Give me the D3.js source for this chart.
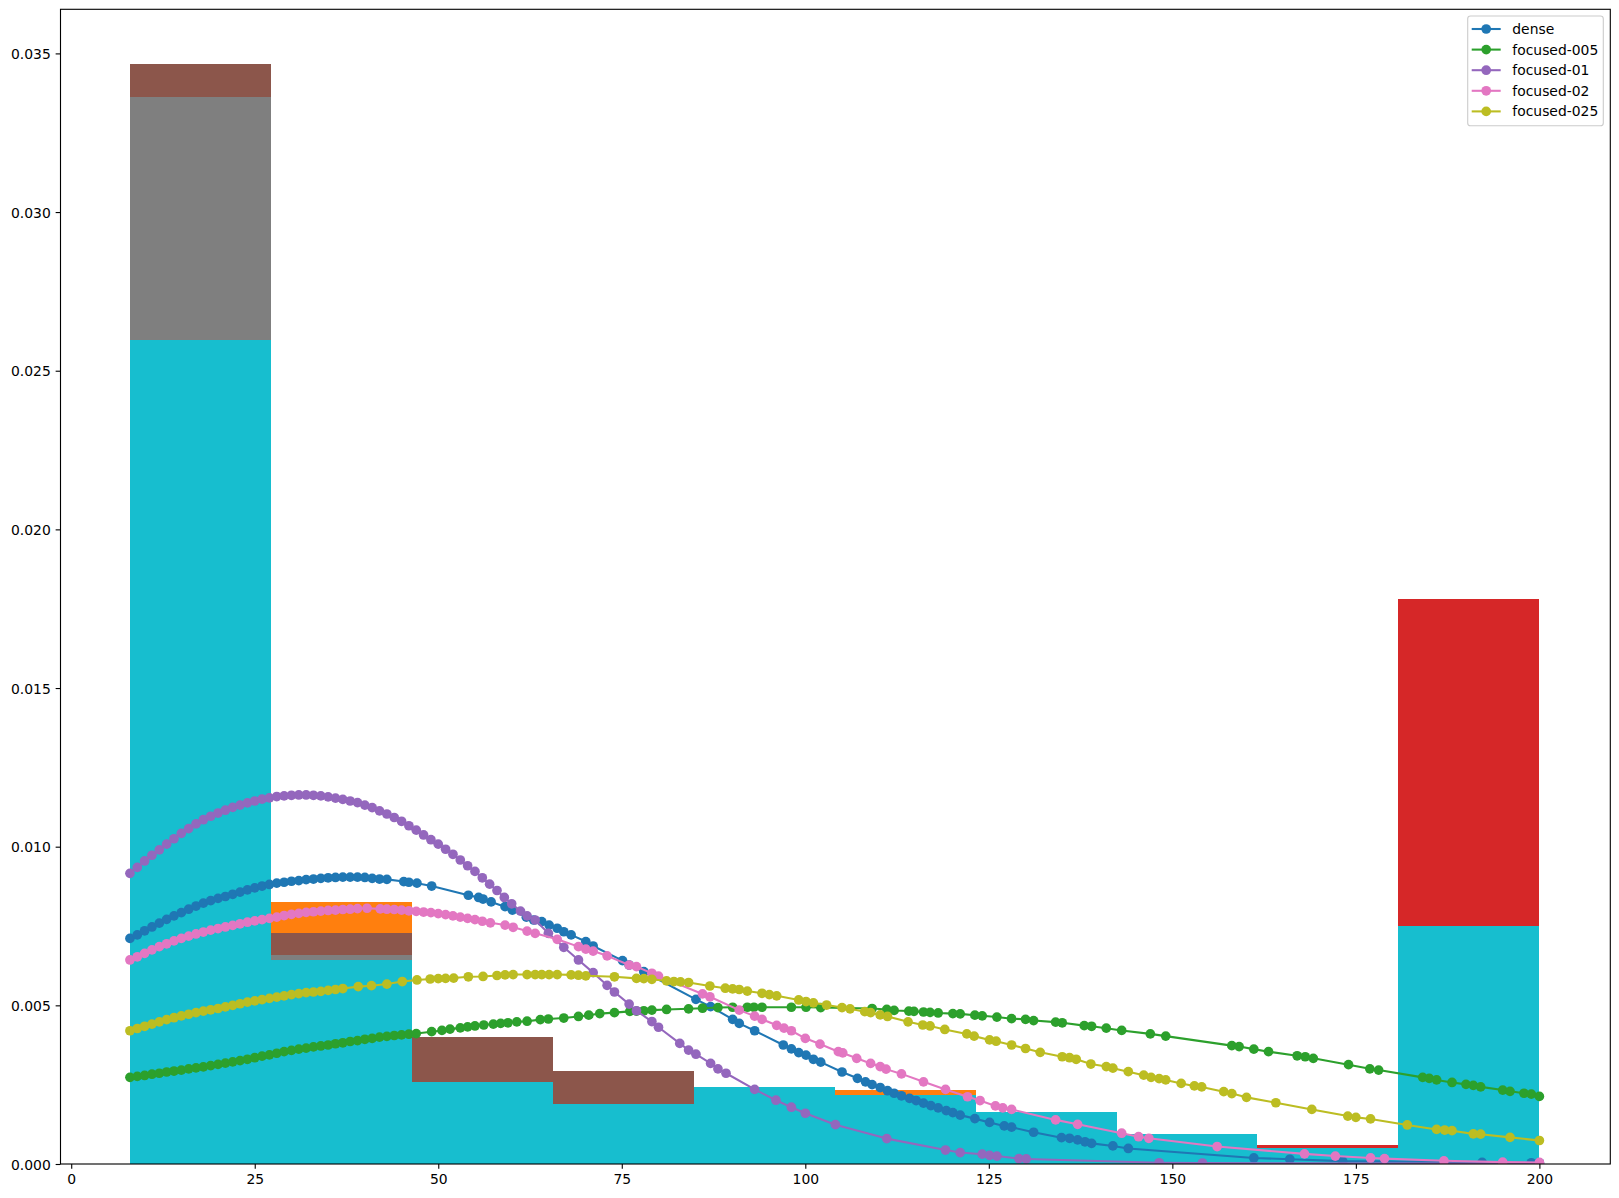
<!DOCTYPE html>
<html>
<head>
<meta charset="utf-8">
<script src="https://cdn.jsdelivr.net/npm/d3@7"></script>
<style>
html,body{margin:0;padding:0;background:#fff;}
svg{display:block;}
text{font-family:"DejaVu Sans",sans-serif;font-size:13.9px;fill:#000;}
</style>
</head>
<body>
<svg id="chart" width="1619" height="1198"></svg>
<script>
// ---------- DATA ----------
const binEdges = [8, 27.2, 46.4, 65.6, 84.8, 104, 123.2, 142.4, 161.6, 180.8, 200];

// histogram densities (drawn in this order, later ones on top)
const histDense = [0.0275, 0.00826, 0.0038, 0.0029, 0.0024, 0.00233, 0.0015, 0.0008, 0.0004, 0.0022];
const hist005   = [0.0172, 0.0050, 0.0030, 0.0025, 0.0020, 0.0018, 0.0014, 0.0008, 0.0006, 0.0178];
const hist01    = [0.03467, 0.00728, 0.0040, 0.00293, 0.0016, 0.0008, 0.0004, 0.0002, 0.0001, 0.0001];
const hist02    = [0.03363, 0.00659, 0.0024, 0.0018, 0.0020, 0.0018, 0.0012, 0.0007, 0.0004, 0.0016];
const hist025   = [0.02597, 0.00643, 0.00259, 0.0019, 0.00243, 0.00217, 0.00164, 0.00095, 0.00051, 0.00749];

const seriesNames = ["dense", "focused-005", "focused-01", "focused-02", "focused-025"];

const kdeDense = [
[8,0.00711],[9,0.00722],[10,0.00735],[11,0.00747],[12,0.00759],[13,0.00771],[14,0.00782],[15,0.00792],
[16,0.00803],[17,0.00813],[18,0.00822],[19,0.0083],[20,0.00837],[21,0.00843],[22,0.0085],[23,0.00857],
[24,0.00864],[25,0.0087],[26,0.00876],[27,0.00881],[28,0.00885],[29,0.00888],[30,0.00891],[31,0.00893],
[32,0.00896],[33,0.00898],[34,0.009],[35,0.00902],[36,0.00903],[37,0.00904],[38,0.00904],[39,0.00904],
[40,0.00903],[41,0.009],[42,0.00898],[43,0.00897],[45.3,0.0089],[46,0.00888],[47.1,0.00885],[49.1,0.00876],
[54.1,0.00847],[55.5,0.0084],[56.1,0.00835],[57.2,0.00826],[59.1,0.00811],[60.1,0.008],[62,0.00778],[63,0.00769],
[64.1,0.00764],[65.1,0.00753],[66.2,0.00743],[67.1,0.00732],[68.1,0.00722],[70.1,0.00701],[71.1,0.00687],
[75.1,0.00641],[76,0.00627],[78,0.00606],[85.1,0.00519],[87.1,0.00496],[90.1,0.00456],[91,0.00443],[93.1,0.0042],
[97,0.00375],[98.1,0.00363],[99.1,0.00351],[100.1,0.00343],[101.1,0.0033],[102.1,0.00321],[105,0.0029],
[107.1,0.0027],[108.2,0.00259],[109.1,0.0025],[110.2,0.00241],[111.2,0.00231],[112.1,0.00223],[113.1,0.00215],
[114.2,0.00207],[115.1,0.002],[116.1,0.00192],[117.1,0.00184],[118.1,0.00177],[119.2,0.00168],[120.1,0.00162],
[121.1,0.00154],[123.1,0.00143],[125.1,0.00131],[127.1,0.0012],[128.1,0.00116],[131.1,0.001],[134.9,0.00083],
[136,0.00081],[137.1,0.00076],[138.1,0.0007],[139,0.00065],[141.9,0.00057],[144,0.00049],[161.1,0.00019],
[166,0.00015],[173.2,0.00009],[192.2,0.00005],[198.9,0.00004],[200,0.00004]
];

const kde005 = [
[8,0.00273],[9,0.00276],[10,0.00279],[11,0.00283],[12,0.00286],[13,0.0029],[14,0.00293],[15,0.00296],
[16,0.003],[17,0.00303],[18,0.00306],[19,0.0031],[20,0.00314],[21,0.00318],[22,0.00322],[23,0.00326],
[24,0.0033],[25,0.00335],[26,0.0034],[27,0.00344],[28,0.00349],[29,0.00354],[30,0.00358],[31,0.00362],
[32,0.00365],[33,0.00369],[34,0.00372],[35,0.00375],[36,0.00379],[37,0.00382],[38,0.00386],[39,0.00389],
[40,0.00393],[41,0.00396],[42,0.004],[43,0.00402],[44,0.00405],[45,0.00407],[46,0.00409],[47,0.00411],
[49.1,0.00417],[50.5,0.00421],[51.6,0.00425],[53,0.00429],[54,0.00432],[55,0.00435],[56.2,0.00438],
[57.5,0.00441],[58.5,0.00443],[59.5,0.00445],[60.7,0.00448],[62.1,0.0045],[63.9,0.00455],[65,0.00457],
[67.1,0.0046],[69.1,0.00465],[70.5,0.00469],[72,0.00474],[74,0.00477],[76.1,0.00481],[77,0.00482],[78,0.00483],
[79.1,0.00485],[81.1,0.00487],[84.1,0.00489],[86,0.00491],[88.1,0.00493],[90.1,0.00494],[92.1,0.00494],
[93,0.00494],[94.1,0.00494],[98.1,0.00494],[100.1,0.00494],[102.1,0.00493],[109.1,0.0049],[111.1,0.00487],
[112.1,0.00484],[114.1,0.00482],[114.8,0.00481],[116.1,0.00479],[117,0.00478],[118.1,0.00476],[120.1,0.00474],
[121.1,0.00473],[123.1,0.00469],[124.1,0.00467],[126.1,0.00463],[128.1,0.00458],[130,0.00456],[131.1,0.00452],
[134.1,0.00447],[135,0.00445],[138,0.00436],[139,0.00434],[141,0.00428],[143.1,0.00421],[147,0.0041],
[149.1,0.00403],[158.1,0.00373],[159.1,0.0037],[161.1,0.00362],[163.1,0.00354],[167,0.00341],[168.1,0.00338],
[169.2,0.00333],[174,0.00313],[176.9,0.003],[178.1,0.00296],[184.1,0.00273],[185,0.0027],[186,0.00265],
[188.1,0.00257],[190,0.00251],[191,0.00248],[192,0.00243],[195,0.00233],[196,0.00229],[197.9,0.00223],
[198.9,0.0022],[200,0.00213]
];

const kde01 = [
[8,0.00916],[9,0.00935],[10,0.00955],[11,0.00973],[12,0.0099],[13,0.01008],[14,0.01025],[15,0.01042],
[16,0.01057],[17,0.01072],[18,0.01085],[19,0.01096],[20,0.01106],[21,0.01115],[22,0.01124],[23,0.01131],
[24,0.01138],[25,0.01144],[26,0.0115],[27,0.01154],[28,0.01158],[29,0.0116],[30,0.01162],[31,0.01163],
[32,0.01163],[33,0.01162],[34,0.0116],[35,0.01157],[36,0.01153],[37,0.01149],[38,0.01144],[39,0.01139],
[40,0.01131],[41,0.01123],[42,0.01113],[43,0.01103],[44,0.01092],[45,0.0108],[46,0.01066],[47,0.01052],
[48,0.01037],[49,0.01022],[50,0.01008],[51,0.00992],[52,0.00976],[53,0.00958],[54,0.0094],[55,0.00922],
[56,0.00902],[57,0.00882],[58,0.00862],[59,0.0084],[60,0.0082],[61.2,0.00797],[62.1,0.00782],[63.2,0.00769],
[65,0.00727],[67.1,0.00683],[69.1,0.00643],[71.1,0.00603],[73,0.00563],[74,0.00542],[76,0.00504],[77,0.00483],
[79.1,0.00449],[80,0.00431],[82.9,0.0038],[84.1,0.00359],[85.1,0.00346],[87.1,0.00317],[88.1,0.003],
[89.2,0.00286],[93.1,0.00235],[96,0.00201],[98.1,0.00179],[100,0.0016],[104.1,0.00124],[111.1,0.0008],
[119.1,0.00044],[121.1,0.00036],[124.1,0.00031],[125.1,0.00027],[126.1,0.00025],[129.1,0.00017],[130.1,0.00016],
[148.2,0.00004],[154.1,0.00003],[200,0.00001]
];

const kde02 = [
[8,0.00643],[9,0.00653],[10,0.00664],[11,0.00675],[12,0.00685],[13,0.00694],[14,0.00703],[15,0.00711],
[16,0.00718],[17,0.00725],[18,0.00731],[19,0.00737],[20,0.00742],[21,0.00747],[22,0.00752],[23,0.00757],
[24,0.00762],[25,0.00766],[26,0.0077],[27,0.00774],[28,0.00778],[29,0.00783],[30,0.00787],[31,0.0079],
[32,0.00793],[33,0.00795],[34,0.00797],[35,0.00799],[36,0.008],[37,0.00802],[38,0.00803],[39,0.00805],
[40.3,0.00806],[42.1,0.00804],[43,0.00803],[44,0.00802],[45,0.008],[46,0.00798],[47,0.00796],[48,0.00794],
[49,0.00792],[50,0.00789],[51,0.00786],[52,0.00782],[53,0.00778],[54,0.00774],[55,0.0077],[56,0.00765],
[57.1,0.0076],[59.1,0.00753],[60.2,0.00746],[62.1,0.00734],[63.2,0.00727],[66.2,0.00708],[69.1,0.00685],
[70.1,0.00677],[71.1,0.00671],[73,0.00656],[76,0.00627],[77,0.00622],[79.1,0.00601],[80,0.00592],[86,0.00536],
[87,0.00527],[91,0.00485],[93.1,0.00466],[94.1,0.00456],[96.1,0.00437],[97.1,0.00428],[98.1,0.0042],[100,0.00396],
[102,0.00378],[104.5,0.00354],[105.1,0.0035],[107,0.00333],[108.9,0.00317],[110.2,0.00307],[111,0.00299],
[113.1,0.00284],[116.1,0.00259],[119.1,0.00235],[122.1,0.00212],[123.8,0.002],[125.9,0.00183],[126.9,0.00177],
[128.1,0.00172],[134.1,0.00139],[137.1,0.00125],[143.1,0.00097],[145.4,0.00086],[146.8,0.00081],[156.1,0.00055],
[168,0.00032],[172.2,0.00025],[177,0.00019],[178.9,0.00017],[187,0.0001],[195,0.00006],[200,0.00005]
];

const kde025 = [
[8,0.0042],[9,0.00427],[10,0.00434],[11,0.00441],[12,0.00448],[13,0.00455],[14,0.00461],[15,0.00467],
[16,0.00472],[17,0.00477],[18,0.00482],[19,0.00486],[20,0.0049],[21,0.00495],[22,0.005],[23,0.00505],
[24,0.0051],[25,0.00514],[26,0.00518],[27,0.00522],[28,0.00526],[29,0.0053],[30,0.00534],[31,0.00537],
[32,0.0054],[33,0.00542],[34,0.00544],[35,0.00547],[36,0.0055],[37,0.00553],[39.1,0.00559],[40.9,0.00562],
[43,0.00567],[45.1,0.00575],[47.1,0.0058],[48.9,0.00583],[50,0.00584],[51,0.00585],[52.1,0.00586],[54.1,0.0059],
[56.1,0.00591],[58,0.00594],[59.1,0.00596],[60.2,0.00597],[62.1,0.00597],[63.2,0.00597],[64.1,0.00597],
[65.1,0.00597],[66.2,0.00597],[68.1,0.00596],[69.1,0.00595],[70.1,0.00593],[74,0.0059],[77,0.00585],[78,0.00584],
[79.1,0.00582],[81.1,0.00577],[82.1,0.00575],[83,0.00574],[84.1,0.00572],[87,0.00561],[89.1,0.00554],
[90.1,0.00552],[91,0.0055],[92.1,0.00545],[94.1,0.00538],[95.1,0.00534],[96.1,0.0053],[99.1,0.00517],
[100.1,0.00512],[101.1,0.00508],[102.9,0.00501],[105,0.00493],[106.1,0.00489],[108.1,0.0048],[108.9,0.00477],
[110.2,0.0047],[111.2,0.00465],[114,0.00448],[116,0.00438],[117,0.00435],[119,0.00424],[122,0.0041],[123,0.00403],
[125.1,0.00391],[126,0.00387],[128.1,0.00375],[130,0.00364],[132,0.00352],[135,0.00338],[136,0.00335],
[136.9,0.0033],[138.9,0.00315],[141,0.00307],[141.9,0.00302],[144,0.00291],[146.1,0.0028],[147.1,0.00273],
[148.2,0.00269],[149.1,0.00265],[151.2,0.00254],[153,0.00246],[154,0.00243],[157,0.00228],[158.1,0.00222],
[160.1,0.0021],[164.1,0.00193],[169,0.00172],[173.9,0.00151],[175,0.00147],[177,0.00142],[182,0.00123],
[186,0.00109],[187.1,0.00107],[188.1,0.00105],[191,0.00095],[192,0.00094],[196,0.00084],[200,0.00074]
];

const xTicks = [0, 25, 50, 75, 100, 125, 150, 175, 200];
const yTicks = [0, 0.005, 0.010, 0.015, 0.020, 0.025, 0.030, 0.035];

// ---------- CHART ----------
const svg = d3.select("#chart");
const L = 60.5, R = 1610.3, T = 9.3, B = 1164;
const x = d3.scaleLinear().domain([-1.46, 209.66]).range([L, R]);
const y = d3.scaleLinear().domain([0, 0.03639]).range([B, T]);

const histColors = ["#ff7f0e", "#d62728", "#8c564b", "#7f7f7f", "#17becf"];
const lineColors = ["#1f77b4", "#2ca02c", "#9467bd", "#e377c2", "#bcbd22"];
const hists = [histDense, hist005, hist01, hist02, hist025];
const kdes = [kdeDense, kde005, kde01, kde02, kde025];
const MR = 4.85;

svg.append("defs").append("clipPath").attr("id", "clip")
  .append("rect").attr("x", L).attr("y", T).attr("width", R - L).attr("height", B - T);

const plot = svg.append("g").attr("clip-path", "url(#clip)");

hists.forEach((h, i) => {
  plot.append("g").selectAll("rect").data(h).join("rect")
    .attr("x", (d, k) => x(binEdges[k]))
    .attr("width", (d, k) => x(binEdges[k + 1]) - x(binEdges[k]))
    .attr("y", d => y(d))
    .attr("height", d => y(0) - y(d))
    .attr("fill", histColors[i])
    .attr("shape-rendering", "crispEdges");
});

const line = d3.line().x(d => x(d[0])).y(d => y(d[1]));
kdes.forEach((s, i) => {
  const g = plot.append("g");
  g.append("path").datum(s).attr("d", line)
    .attr("fill", "none").attr("stroke", lineColors[i]).attr("stroke-width", 2.08)
    .attr("stroke-linejoin", "round").attr("stroke-linecap", "square");
  g.selectAll("circle").data(s).join("circle")
    .attr("cx", d => x(d[0])).attr("cy", d => y(d[1])).attr("r", MR)
    .attr("fill", lineColors[i]);
});

// axes
const xAxis = d3.axisBottom(x).tickValues(xTicks).tickFormat(d3.format("d")).tickSize(4.86).tickPadding(4.86);
const yAxis = d3.axisLeft(y).tickValues(yTicks).tickFormat(d3.format(".3f")).tickSize(4.86).tickPadding(4.86);

const gx = svg.append("g").attr("transform", `translate(0,${B})`).call(xAxis);
const gy = svg.append("g").attr("transform", `translate(${L},0)`).call(yAxis);
[gx, gy].forEach(g => {
  g.select(".domain").remove();
  g.selectAll(".tick line").attr("stroke", "#000").attr("stroke-width", 1.11);
  g.selectAll(".tick text").attr("fill", "#000")
    .style("font-family", "'DejaVu Sans', sans-serif").style("font-size", "13.9px");
});
gx.selectAll(".tick text").attr("dy", "0.71em");
gy.selectAll(".tick text").attr("dy", "0.36em");

// frame
svg.append("rect").attr("x", L).attr("y", T).attr("width", R - L).attr("height", B - T)
  .attr("fill", "none").attr("stroke", "#000").attr("stroke-width", 1.11);

// legend
const lg = svg.append("g");
lg.append("rect").attr("x", 1467.7).attr("y", 16).attr("width", 135.6).attr("height", 109.7)
  .attr("rx", 2.8).attr("fill", "#fff").attr("fill-opacity", 0.8)
  .attr("stroke", "#cccccc").attr("stroke-width", 1.11);
seriesNames.forEach((name, i) => {
  const cy = 29 + i * 20.6;
  lg.append("line").attr("x1", 1471.7).attr("x2", 1500.7).attr("y1", cy).attr("y2", cy)
    .attr("stroke", lineColors[i]).attr("stroke-width", 2.08);
  lg.append("circle").attr("cx", 1486.2).attr("cy", cy).attr("r", MR).attr("fill", lineColors[i]);
  lg.append("text").attr("x", 1512.3).attr("y", cy + 5).text(name);
});
</script>
</body>
</html>
